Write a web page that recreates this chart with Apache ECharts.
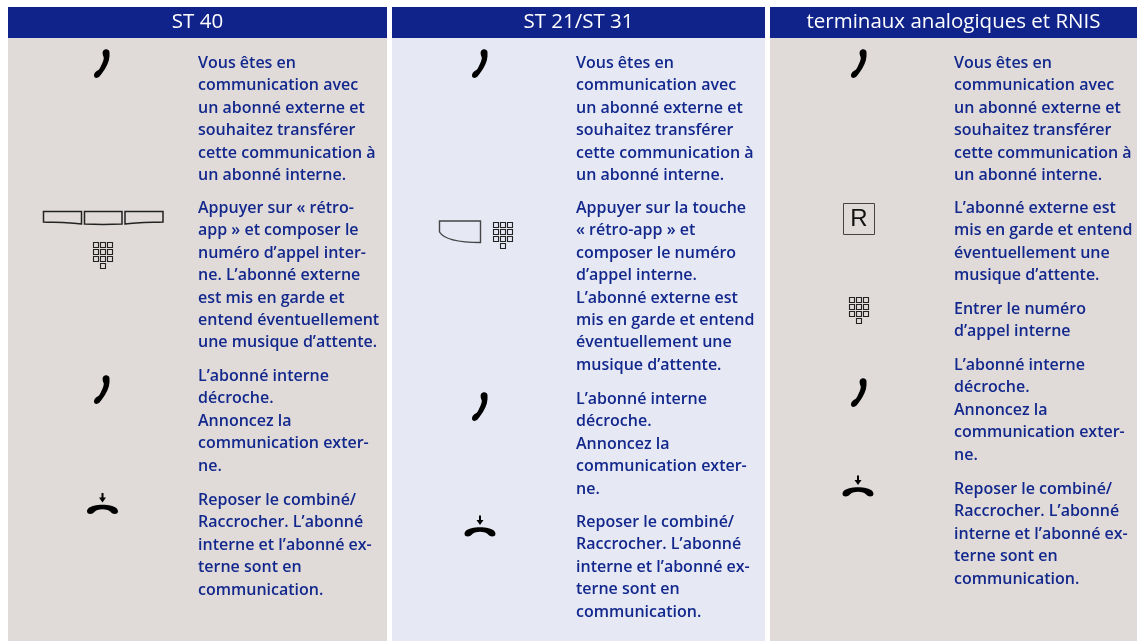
<!DOCTYPE html>
<html>
<head>
<meta charset="utf-8">
<style>
  html, body { margin: 0; padding: 0; background: #fff; }
  #chart { width: 1137px; height: 641px; }
</style>
</head>
<body>
<div id="chart"></div>
<script src="https://cdn.jsdelivr.net/npm/echarts@6/dist/echarts.min.js"></script>
<script>
// column titles
const titles = ['ST 40', 'ST 21/ST 31', 'terminaux analogiques et RNIS'];

// the text of each column, one list per paragraph
const intro = ['Vous êtes en', 'communication avec', 'un abonné externe et', 'souhaitez transférer', 'cette communication à', 'un abonné interne.'];
const announce = ['L\u2019abonné interne', 'décroche.', 'Annoncez la', 'communication exter-', 'ne.'];
const hangUp = ['Reposer le combiné/', 'Raccrocher. L\u2019abonné', 'interne et l\u2019abonné ex-', 'terne sont en', 'communication.'];

const col1Text = [
  intro,
  ['Appuyer sur « rétro-', 'app » et composer le', 'numéro d\u2019appel inter-', 'ne. L\u2019abonné externe', 'est mis en garde et', 'entend éventuellement', 'une musique d\u2019attente.'],
  announce,
  hangUp
];
const col2Text = [
  intro,
  ['Appuyer sur la touche', '« rétro-app » et', 'composer le numéro', 'd\u2019appel interne.', 'L\u2019abonné externe est', 'mis en garde et entend', 'éventuellement une', 'musique d\u2019attente.'],
  announce,
  hangUp
];
const col3Text = [
  intro,
  ['L\u2019abonné externe est', 'mis en garde et entend', 'éventuellement une', 'musique d\u2019attente.'],
  ['Entrer le numéro', 'd\u2019appel interne'],
  announce,
  hangUp
];

// layout
const panels = [
  { x: 8, w: 379, body: '#e0dbd9', textX: 198, text: col1Text, paraY: [63.5, 208.5, 376.5, 500.5] },
  { x: 392, w: 373, body: '#e6e8f4', textX: 576, text: col2Text, paraY: [63.5, 208.5, 399.5, 522.5] },
  { x: 770, w: 367, body: '#e0dbd9', textX: 954, text: col3Text, paraY: [63.5, 208.5, 309.5, 365.5, 489.5] }
];
const lineStep = 22.4;
const blue = '#13288c';
const headerBlue = '#0f238b';

// icon outlines, registered as shapes because the graphic component has no plain path type
const iconPaths = {
  handset: 'M9 2C10.5 -0.5 15 -0.5 15.5 3C16 9 14.5 14 11.5 19C10 21.5 8 24.5 5.5 27.5C3.5 29.5 0.5 29.5 0 27C-0.3 24.5 1.5 22.5 3.5 21.5C5 20.8 5.5 20 6.5 18C8 15 10 11 9.8 8.5C9 6.5 8 4 9 2Z',
  hangUp: 'M0 18.5C0 15 4 13.5 7 12.8C12 11.5 19 11.5 24 12.8C27 13.5 31 15 31 18.5C31 21 27.5 21.5 25.5 20.5C24 19.5 23 18 20.5 17C17 16 14 16 10.5 17C8 18 7 19.5 5.5 20.5C3.5 21.5 0 21 0 18.5ZM14.5 0H16.5V4.5H19L15.5 9.5L12 4.5H14.5Z',
  softLeft: 'M43.5 211.5H81.5V224C70 222.5 55 222.5 43.5 222Z',
  softMid: 'M84.5 211.5H122V224C110 224.5 96 224.5 84.5 224Z',
  softRight: 'M125 211.5H163V222C150 222.5 136 222.5 125 224Z',
  key: 'M439.5 221H480.5V242.5C465 242.5 445 241 439.5 232Z'
};
Object.keys(iconPaths).forEach(name => {
  echarts.graphic.registerShape(name, echarts.graphic.extendPath(iconPaths[name]));
});

const handsets = [[94, 49], [94, 375], [472, 49], [472, 392], [851, 49], [851, 378]];
const hangUps = [[87, 493], [464.5, 515.5], [842.5, 475.5]];
const keypads = [[93.5, 242.5], [493.5, 222.5], [849.5, 297.5]];

function keypad(x, y) {
  const out = [];
  for (let r = 0; r < 4; r++) {
    for (let c = 0; c < 3; c++) {
      if (r === 3 && c !== 1) continue;
      out.push({
        type: 'rect',
        x: x + c * 7,
        y: y + r * 7,
        shape: { x: 0, y: 0, width: 5, height: 5 },
        style: { fill: 'none', stroke: '#222', lineWidth: 1.1 }
      });
    }
  }
  return out;
}

const els = [];

panels.forEach((p, i) => {
  els.push({ type: 'rect', shape: { x: p.x, y: 38, width: p.w, height: 603 }, style: { fill: p.body } });
  els.push({ type: 'rect', shape: { x: p.x, y: 7, width: p.w, height: 31 }, style: { fill: headerBlue } });
  els.push({
    type: 'text',
    x: p.x + p.w / 2,
    y: 22.5,
    style: { text: titles[i], fill: '#fff', font: '500 20.5px "Open Sans"', textAlign: 'center', textVerticalAlign: 'middle' }
  });
  p.text.forEach((para, k) => {
    para.forEach((line, n) => {
      els.push({
        type: 'text',
        x: p.textX,
        y: p.paraY[k] + n * lineStep,
        style: { text: line, fill: blue, font: '600 16px "Open Sans"', textAlign: 'left', textVerticalAlign: 'middle' }
      });
    });
  });
});

handsets.forEach(h => els.push({ type: 'handset', x: h[0], y: h[1], style: { fill: '#000' } }));
hangUps.forEach(h => els.push({ type: 'hangUp', x: h[0], y: h[1], style: { fill: '#000' } }));
keypads.forEach(k => els.push(...keypad(k[0], k[1])));

// soft keys of the ST 40
['softLeft', 'softMid', 'softRight'].forEach(name => {
  els.push({ type: name, style: { fill: 'none', stroke: '#222', lineWidth: 1.5 } });
});
// key of the ST 21/ST 31
els.push({ type: 'key', style: { fill: 'none', stroke: '#444', lineWidth: 1.4 } });
// R key
els.push({ type: 'rect', shape: { x: 843.5, y: 203.5, width: 31, height: 31 }, style: { fill: 'none', stroke: '#444', lineWidth: 1 } });
els.push({ type: 'text', x: 859, y: 219.5, style: { text: 'R', fill: '#111', font: '24px "Liberation Sans"', textAlign: 'center', textVerticalAlign: 'middle' } });

const chart = echarts.init(document.getElementById('chart'));
chart.setOption({ animation: false, graphic: { elements: els } });
</script>
</body>
</html>
